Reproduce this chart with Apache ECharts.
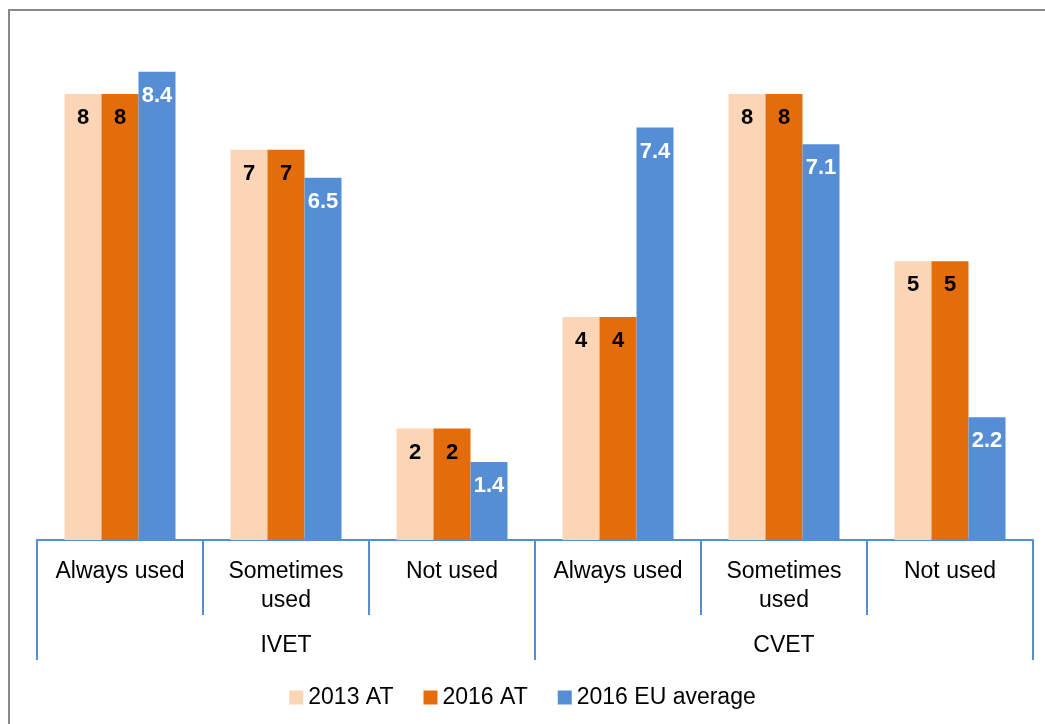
<!DOCTYPE html>
<html>
<head>
<meta charset="utf-8">
<script src="https://cdn.jsdelivr.net/npm/echarts@6/dist/echarts.min.js"></script>
<style>
  html, body { margin: 0; padding: 0; background: #fff; }
  #main { width: 1045px; height: 724px; }
</style>
</head>
<body>
<div id="main"></div>
<script>
// categories
const categories = ['Always used', 'Sometimes\nused', 'Not used', 'Always used', 'Sometimes\nused', 'Not used'];
const groups = ['IVET', 'CVET'];

// series values
const at2013 = [8, 7, 2, 4, 8, 5];
const at2016 = [8, 7, 2, 4, 8, 5];
const eu2016 = [8.4, 6.5, 1.4, 7.4, 7.1, 2.2];

const axisColor = '#558ed5';
const font = 'Liberation Sans, Arial, sans-serif';

let myChart = echarts.init(document.getElementById('main'));

let lbl = (color) => ({
    show: true,
    position: 'insideTop',
    distance: 13,
    color: color,
    fontFamily: font,
    fontWeight: 'bold',
    fontSize: 22
});

myChart.setOption({
    animation: false,
    textStyle: { fontFamily: font },
    graphic: [{
        type: 'rect',
        shape: { x: 9, y: 10, width: 1040, height: 720 },
        style: { fill: 'none', stroke: '#898989', lineWidth: 2 },
        silent: true
    }],
    legend: {
        top: 681,
        left: 'center',
        icon: 'rect',
        itemWidth: 14,
        itemHeight: 14,
        itemGap: 30,
        textStyle: { fontSize: 23, color: '#000', fontFamily: font },
        data: ['2013 AT', '2016 AT', '2016 EU average']
    },
    grid: { left: 37, right: 12, top: 38.25, bottom: 184 },
    xAxis: [{
        type: 'category',
        data: categories,
        axisLine: { show: true, lineStyle: { color: axisColor, width: 2 } },
        axisTick: { show: true, inside: false, interval: 0, length: 75, lineStyle: { color: axisColor, width: 2 } },
        axisLabel: {
            interval: 0,
            margin: 17,
            color: '#000',
            fontSize: 23,
            lineHeight: 29,
            fontFamily: font
        }
    }, {
        type: 'category',
        position: 'bottom',
        data: groups,
        axisLine: { show: false },
        axisTick: { show: true, inside: false, interval: 0, length: 120, lineStyle: { color: axisColor, width: 2 } },
        axisLabel: {
            interval: 0,
            margin: 91,
            color: '#000',
            fontSize: 23,
            lineHeight: 29,
            fontFamily: font
        }
    }],
    yAxis: {
        type: 'value',
        min: 0,
        max: 9,
        show: false,
        splitLine: { show: false }
    },
    series: [{
        name: '2013 AT',
        type: 'bar',
        data: at2013,
        barWidth: 37,
        barGap: '0%',
        itemStyle: { color: '#fbd5b5' },
        label: lbl('#000')
    }, {
        name: '2016 AT',
        type: 'bar',
        data: at2016,
        barWidth: 37,
        barGap: '0%',
        itemStyle: { color: '#e46c0a' },
        label: lbl('#000')
    }, {
        name: '2016 EU average',
        type: 'bar',
        data: eu2016,
        barWidth: 37,
        barGap: '0%',
        itemStyle: { color: '#558ed5' },
        label: lbl('#fff')
    }]
});
</script>
</body>
</html>
